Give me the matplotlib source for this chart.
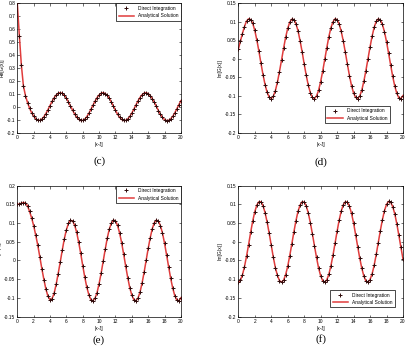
import numpy as np
import matplotlib
matplotlib.use('Agg')
import matplotlib.pyplot as plt
from matplotlib.ticker import FixedLocator, FuncFormatter

# sampling points along |x - xi|
x = np.linspace(0, 20, 81)

# (c) real part, panel top-left
re_c = [.800, .550, .320, .160, .085, .032, -.012, -.047, -.074, -.093, -.104, -.106, -.096,
        -.078, -.053, -.023, .009, .041, .069, .090, .104, .108, .103, .088, .066, .037, .006,
        -.026, -.056, -.081, -.098, -.107, -.106, -.096, -.077, -.051, -.021, .011, .042, .070,
        .091, .104, .108, .102, .087, .064, .036, .004, -.028, -.058, -.082, -.099, -.107, -.106,
        -.095, -.076, -.050, -.019, .013, .044, .071, .092, .105, .108, .101, .086, .063, .034,
        .002, -.030, -.059, -.083, -.100, -.108, -.106, -.094, -.075, -.048, -.017, .015, .046]

# (d) imaginary part, panel top-right
im_d = [.025, .047, .068, .087, .102, .108, .106, .096, .077, .051, .021, -.012, -.043,
        -.070, -.091, -.104, -.108, -.102, -.087, -.064, -.035, -.004, .028, .058, .082, .099,
        .107, .106, .095, .076, .049, .019, -.014, -.045, -.072, -.092, -.105, -.108, -.101,
        -.086, -.062, -.034, -.002, .030, .060, .084, .100, .108, .106, .094, .074, .048, .017,
        -.015, -.046, -.073, -.093, -.105, -.108, -.101, -.085, -.061, -.032, .000, .032, .061,
        .085, .101, .108, .105, .093, .073, .046, .015, -.017, -.048, -.074, -.094, -.106, -.108,
        -.100]

# (e) real part, panel bottom-left
re_e = [.150, .151, .153, .155, .154, .146, .131, .114, .093, .068, .041, .010, -.022,
        -.051, -.077, -.096, -.105, -.102, -.088, -.064, -.035, -.004, .028, .058, .082, .099,
        .107, .106, .095, .076, .049, .019, -.014, -.045, -.072, -.092, -.105, -.108, -.101,
        -.086, -.062, -.034, -.002, .030, .060, .084, .100, .108, .106, .094, .074, .048, .017,
        -.015, -.046, -.073, -.093, -.105, -.108, -.101, -.085, -.061, -.032, .000, .032, .061,
        .085, .101, .108, .105, .093, .073, .046, .015, -.017, -.048, -.074, -.094, -.106, -.108,
        -.100]

# (f) imaginary part, panel bottom-right
im_f = [-.108, -.103, -.089, -.067, -.039, -.008, .025, .055, .080, .098, .107, .107, .097,
        .078, .053, .023, -.009, -.041, -.069, -.090, -.104, -.108, -.103, -.088, -.066, -.037,
        -.006, .026, .056, .081, .098, .107, .106, .096, .077, .051, .021, -.011, -.042, -.070,
        -.091, -.104, -.108, -.102, -.087, -.064, -.036, -.004, .028, .058, .082, .099, .107,
        .106, .095, .076, .050, .019, -.013, -.044, -.071, -.092, -.105, -.108, -.101, -.086,
        -.063, -.034, -.002, .030, .059, .083, .100, .108, .106, .094, .075, .048, .017, -.015,
        -.046]

RED = '#e03c3c'
DARK = '#2e0a0a'
FS = 3.5


def tick_fmt(v, pos):
    return '%g' % round(v, 3)


def plotPanel(fig, rect, y, ylabel, ylim, ystep, leg_loc, leg_anchor, caption, cap_xy):
    ax = fig.add_axes(rect)
    line, = ax.plot(x, y, color=RED, lw=1.1, zorder=2)
    pts, = ax.plot(x, y, ls='none', marker='+', ms=3.2, mew=0.7, color=DARK, zorder=3)
    ax.set_xlim(0, 20)
    ax.set_ylim(*ylim)
    ax.xaxis.set_major_locator(FixedLocator(np.arange(0, 20.1, 2)))
    ax.yaxis.set_major_locator(FixedLocator(np.arange(ylim[0], ylim[1] + 1e-9, ystep)))
    ax.yaxis.set_major_formatter(FuncFormatter(tick_fmt))
    ax.tick_params(direction='in', length=1.8, width=0.4, labelsize=FS, pad=1.5,
                   top=True, right=True)
    for s in ax.spines.values():
        s.set_linewidth(0.5)
    ax.set_xlabel('|x-\u03be|', fontsize=FS, labelpad=1.5)
    ax.set_ylabel(ylabel, fontsize=FS, labelpad=1.5)
    leg = ax.legend([pts, line], ['Direct Integration', 'Analytical Solution'],
                    loc=leg_loc, bbox_to_anchor=leg_anchor, borderaxespad=0,
                    fontsize=FS, fancybox=False, framealpha=1, edgecolor='black',
                    handlelength=3.2, borderpad=0.5, labelspacing=0.5)
    leg.get_frame().set_linewidth(0.5)
    fig.text(cap_xy[0], cap_xy[1], caption, ha='center', va='center',
             family='Liberation Serif', fontsize=8)
    return ax


def plotAll():
    plt.rc('font', family='Liberation Sans')
    fig = plt.figure(figsize=(4.09, 3.5), dpi=100)
    plotPanel(fig, [0.0423, 0.6214, 0.400, 0.369], re_c, 'Re[G(x)]', (-0.2, 0.8), 0.1,
              'upper right', (1, 1), '(c)', (0.243, 0.540))
    plotPanel(fig, [0.5826, 0.6214, 0.4027, 0.369], im_d, 'Im[G(x)]', (-0.2, 0.15), 0.05,
              'lower right', (0.919, 0.073), '(d)', (0.784, 0.538))
    plotPanel(fig, [0.0423, 0.0957, 0.400, 0.3737], re_e, 'Re[G(x)]', (-0.15, 0.2), 0.05,
              'upper right', (1, 1), '(e)', (0.242, 0.027))
    plotPanel(fig, [0.5826, 0.0957, 0.4027, 0.3737], im_f, 'Im[G(x)]', (-0.2, 0.15), 0.05,
              'lower right', (0.951, 0.069), '(f)', (0.784, 0.031))
    fig.savefig('out.png', dpi=100)


if __name__ == '__main__':
    plotAll()
